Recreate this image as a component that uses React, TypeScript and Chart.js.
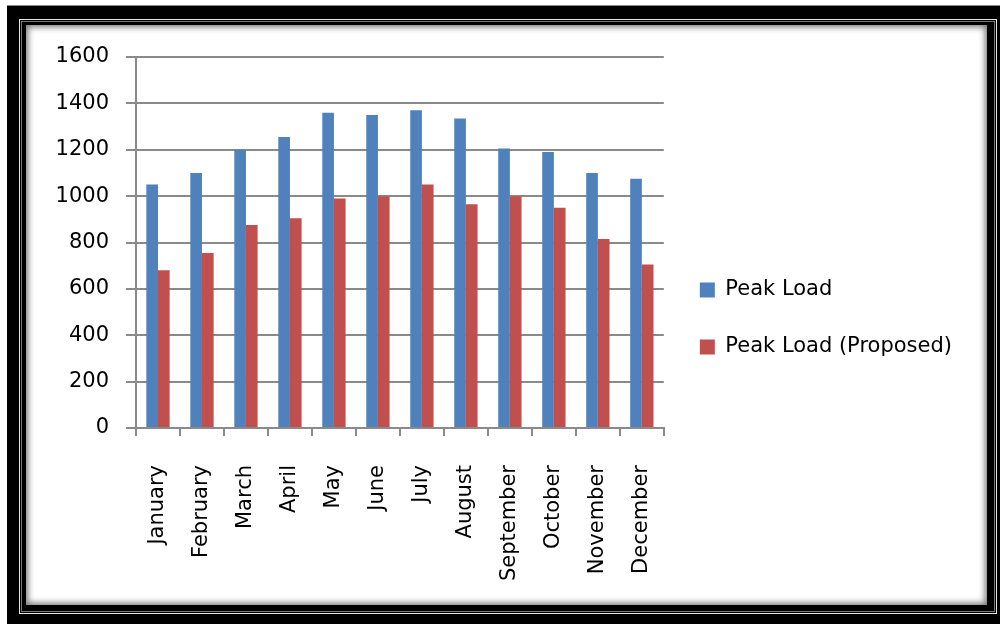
import React, { useEffect, useRef } from "react";
import { Chart, registerables } from "chart.js";

Chart.register(...registerables);

const months = [
  "January", "February", "March", "April", "May", "June",
  "July", "August", "September", "October", "November", "December",
];
const peakLoad = [1050, 1100, 1200, 1255, 1360, 1350, 1370, 1335, 1205, 1190, 1100, 1075];
const peakLoadProposed = [680, 755, 875, 905, 990, 1000, 1050, 965, 1000, 950, 815, 705];
const seriesNames = ["Peak Load", "Peak Load (Proposed)"];
const yTicks = { min: 0, max: 1600, step: 200 };

const W = 1000;
const H = 624;
const FONT = "'DejaVu Sans', sans-serif";
const GRID = "#8a8a8a";

function Frame() {
  const abs = (s: React.CSSProperties): React.CSSProperties => ({ position: "absolute", boxSizing: "border-box", ...s });
  return (
    <>
      <div style={abs({ left: 7, top: 5, width: W - 7, height: H - 5, background: "#000", borderTop: "1px solid #888" })} />
      <div style={abs({ left: 19, top: 19, width: 978, height: 595, border: "1px solid #e6e6e6" })} />
      <div style={abs({ left: 21, top: 21, width: 974, height: 591, background: "#000", border: "1px solid #777" })} />
      <div
        style={abs({
          left: 26, top: 25, width: 961, height: 580, background: "#fff",
          boxShadow: "inset 0 0 6px 2px rgba(0,0,0,0.55)",
        })}
      />
    </>
  );
}

export default function App() {
  const ref = useRef<HTMLCanvasElement | null>(null);

  useEffect(() => {
    if (!ref.current) return;
    const chart = new Chart(ref.current, {
      type: "bar",
      data: {
        labels: months,
        datasets: [
          { label: seriesNames[0], data: peakLoad, backgroundColor: "#4F81BD", borderWidth: 0 },
          { label: seriesNames[1], data: peakLoadProposed, backgroundColor: "#C0504D", borderWidth: 0 },
        ],
      },
      options: {
        animation: false,
        responsive: false,
        devicePixelRatio: 1,
        layout: { padding: { left: 0, top: 57, right: 38, bottom: 44 } },
        datasets: { bar: { categoryPercentage: 0.53, barPercentage: 1 } },
        plugins: {
          tooltip: { enabled: false },
          title: { display: false },
          legend: {
            position: "right",
            align: "center",
            maxWidth: 320,
            labels: {
              boxWidth: 15,
              boxHeight: 15,
              padding: 36,
              color: "#000",
              font: { family: FONT, size: 21 },
            },
          },
        },
        scales: {
          x: {
            afterFit: (s: any) => { s.height = 152; },
            border: { display: true, color: GRID, width: 2 },
            grid: { display: true, drawOnChartArea: false, drawTicks: true, tickLength: 8, color: GRID, lineWidth: 2, offset: true },
            ticks: {
              autoSkip: false,
              minRotation: 90,
              maxRotation: 90,
              padding: 29,
              color: "#000",
              font: { family: FONT, size: 21 },
            },
          },
          y: {
            min: yTicks.min,
            max: yTicks.max,
            afterFit: (s: any) => { s.width = 136; },
            border: { display: true, color: GRID, width: 2 },
            grid: { color: GRID, lineWidth: 2, tickLength: 10, drawTicks: true },
            ticks: {
              stepSize: yTicks.step,
              padding: 17,
              color: "#000",
              font: { family: FONT, size: 21 },
              callback: (v: any) => String(v),
            },
          },
        },
      },
    });
    return () => chart.destroy();
  }, []);

  return (
    <div style={{ position: "fixed", left: 0, top: 0, width: W, height: H, background: "#fff", overflow: "hidden" }}>
      <Frame />
      <canvas ref={ref} width={W} height={H} style={{ position: "absolute", left: 0, top: 0, width: W, height: H }} />
    </div>
  );
}
